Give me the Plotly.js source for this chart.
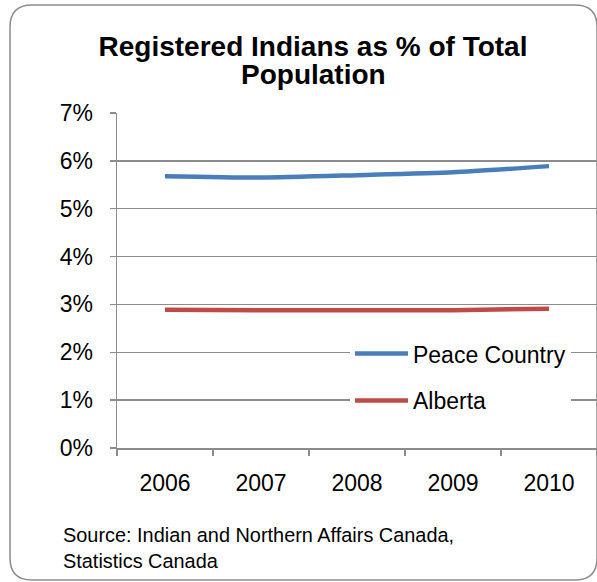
<!DOCTYPE html>
<html>
<head>
<meta charset="utf-8">
<script src="https://cdn.plot.ly/plotly-3.0.1.min.js"></script>
<style>html,body{margin:0;padding:0;background:#fff;}#chart{width:597px;height:582px;}</style>
</head>
<body>
<div id="chart"></div>
<script>
const years = ["2006", "2007", "2008", "2009", "2010"];
const peaceCountry = [0.0568, 0.0565, 0.0570, 0.0576, 0.0589];
const alberta = [0.0289, 0.0288, 0.0288, 0.0288, 0.0291];
const seriesNames = ["Peace Country", "Alberta"];
const titleLine1 = "Registered Indians as % of Total";
const titleLine2 = "Population";
const sourceText = "Source: Indian and Northern Affairs Canada,<br>Statistics Canada";

const FONT = "Liberation Sans, Arial, sans-serif";

const traces = [
  {x: years, y: peaceCountry, name: seriesNames[0], type: "scatter", mode: "lines",
   line: {color: "#4a7ebb", width: 4.5, shape: "spline", smoothing: 0.6}, legendgroup: "a"},
  {x: years, y: alberta, name: seriesNames[1], type: "scatter", mode: "lines",
   line: {color: "#be4b48", width: 4.5, shape: "spline", smoothing: 0.6}, legendgroup: "b"}
];

const layout = {
  width: 597, height: 582,
  margin: {l: 117, r: 0, t: 113, b: 134},
  paper_bgcolor: "#fff", plot_bgcolor: "#fff",
  font: {family: FONT, color: "#000", size: 23},
  title: {text: titleLine1, font: {family: FONT, size: 28, color: "#000", weight: "bold"},
          x: 313 / 597, xref: "container", xanchor: "center",
          y: 1 - 56 / 582, yref: "container", yanchor: "bottom", pad: {t: 0, b: 0, l: 0, r: 0}},
  xaxis: {type: "category", range: [-0.5, 4.5], showgrid: false, showline: true,
          linecolor: "#8c8c8c", linewidth: 1.5, ticks: "outside", ticklen: 6, tickcolor: "#8c8c8c",
          tickwidth: 1.5, tickson: "boundaries", ticklabelstandoff: 14,
          tickfont: {family: FONT, size: 23, color: "#000"}, zeroline: false, fixedrange: true},
  yaxis: {range: [0, 0.07], dtick: 0.01, tickformat: ".0%", showgrid: true, gridcolor: "#8c8c8c",
          gridwidth: 1.5, showline: true, linecolor: "#8c8c8c", linewidth: 1.5, ticks: "outside",
          ticklen: 6, tickcolor: "#8c8c8c", tickwidth: 1.5, ticklabelstandoff: 12,
          tickfont: {family: FONT, size: 23, color: "#000"}, zeroline: false, fixedrange: true},
  showlegend: true,
  legend: {x: 0.4854, y: 0.346, xanchor: "left", yanchor: "top", bgcolor: "#fff",
           borderwidth: 0, font: {family: FONT, size: 23, color: "#000"},
           traceorder: "grouped", tracegroupgap: 14, itemwidth: 53},
  annotations: [
    {text: titleLine2, xref: "paper", yref: "paper", x: (313 - 117) / 480, y: (448 - 91) / 335,
     xanchor: "center", yanchor: "bottom", showarrow: false, borderpad: 0,
     font: {family: FONT, size: 28, color: "#000", weight: "bold"}},
    {text: sourceText, xref: "paper", yref: "paper", x: -0.116, y: -0.222, xanchor: "left",
     yanchor: "top", align: "left", showarrow: false, font: {family: FONT, size: 19.9, color: "#000"}}
  ],
  shapes: [
    {type: "path", xref: "paper", yref: "paper", layer: "below",
     path: "", line: {color: "#8c8c8c", width: 1.5}}
  ]
};

// rounded border in pixel terms converted to paper coordinates
(function(){
  const W = 480, H = 335, L = 117, T = 113;
  const px = v => (v - L) / W;
  const py = v => (T + H - v) / H;
  const x0 = 10, y0 = 5, x1 = 597, y1 = 580, r = 22;
  const p = [
    "M", px(x0 + r), py(y0),
    "L", px(x1 - r), py(y0),
    "Q", px(x1), py(y0), px(x1), py(y0 + r),
    "L", px(x1), py(y1 - r),
    "Q", px(x1), py(y1), px(x1 - r), py(y1),
    "L", px(x0 + r), py(y1),
    "Q", px(x0), py(y1), px(x0), py(y1 - r),
    "L", px(x0), py(y0 + r),
    "Q", px(x0), py(y0), px(x0 + r), py(y0), "Z"
  ];
  let s = "";
  for (let i = 0; i < p.length; i++) {
    const v = p[i];
    if (typeof v === "string") s += v + " ";
    else { s += v.toFixed(4) + (typeof p[i+1] === "number" ? "," : " "); }
  }
  layout.shapes[0].path = s.trim();
})();

Plotly.newPlot("chart", traces, layout, {displayModeBar: false, staticPlot: true});
</script>
</body>
</html>
